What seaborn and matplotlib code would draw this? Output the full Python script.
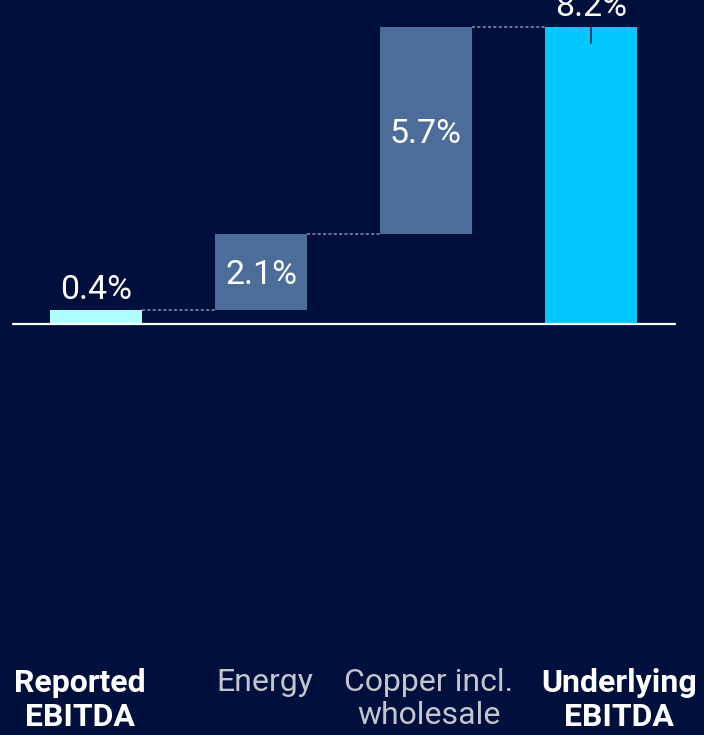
import numpy as np
import matplotlib
matplotlib.use("Agg")
import matplotlib.pyplot as plt
import matplotlib.transforms as mtransforms
import seaborn as sns

# ---- data ----
categories = ["Reported\nEBITDA", "Energy", "Copper incl.\nwholesale", "Underlying\nEBITDA"]
values = [0.4, 2.1, 5.7, 8.2]          # segment sizes (last is total)
value_labels = ["0.4%", "2.1%", "5.7%", "8.2%"]
is_total = [True, False, False, True]

BG = "#000F3C"
bar_colors = ["#B0FFFF", "#4C6C9A", "#4C6C9A", "#00C8FF"]

# waterfall bases
bases = []
cum = 0.0
for v, t in zip(values, is_total):
    if t:
        bases.append(0.0)
        cum = v
    else:
        bases.append(cum)
        cum += v
tops = [b + v for b, v in zip(bases, values)]

sns.set_style("white")
plt.rcParams["font.family"] = ["Roboto", "DejaVu Sans"]

fig = plt.figure(figsize=(7.04, 7.35), dpi=100, facecolor=BG)
ax = fig.add_axes([0, 0.1156, 1, 0.8844])
ax.set_facecolor(BG)

w = 0.558
sns.barplot(x=list(range(len(categories))), y=values, color=bar_colors[0],
            width=w, linewidth=0, ax=ax, native_scale=True)
for patch, b, c in zip(ax.patches, bases, bar_colors):
    patch.set_y(b)
    patch.set_facecolor(c)
    patch.set_edgecolor("none")

# connectors
for i in range(len(values) - 1):
    ax.plot([i + w / 2, i + 1 - w / 2], [tops[i], tops[i]], color="#8A93AD",
            lw=1.1, ls=(0, (2, 1.5)), zorder=1)

# baseline
ax.plot([-0.503, 3.509], [0, 0], color="white", lw=1.6, zorder=5)

# small tick inside total bar
last = len(values) - 1
ax.plot([last, last], [tops[last], tops[last] - 0.45], color="#0A2A50", lw=1.2, zorder=4)

# value labels
for i, (lab, b, t, tot) in enumerate(zip(value_labels, bases, tops, is_total)):
    if tot:
        ax.text(i, t + 0.11, lab, ha="center", va="bottom", color="white",
                fontsize=24.5, fontweight="normal")
    else:
        ax.text(i, (b + t) / 2 - 0.1, lab, ha="center", va="center", color="white",
                fontsize=24.5, fontweight="normal")

ax.set_xlim(-0.582, 3.685)
ax.set_ylim(-9.0, 8.95)
ax.set_yticks([])
ax.set_xticks(range(len(categories)))
ax.set_xticklabels(categories)
ax.tick_params(axis="x", length=0, pad=13)
offsets_px = [-16, 4, 3, 28]
for lab, tot, dx in zip(ax.get_xticklabels(), is_total, offsets_px):
    lab.set_fontsize(23)
    lab.set_linespacing(1.15)
    if tot:
        lab.set_color("white")
        lab.set_fontweight("bold")
    else:
        lab.set_color("#C4C6CE")
        lab.set_fontweight("normal")
    lab.set_transform(lab.get_transform() +
                      mtransforms.ScaledTranslation(dx / 100, 0, fig.dpi_scale_trans))
for s in ax.spines.values():
    s.set_visible(False)

fig.savefig("out.png", dpi=100, facecolor=BG)
